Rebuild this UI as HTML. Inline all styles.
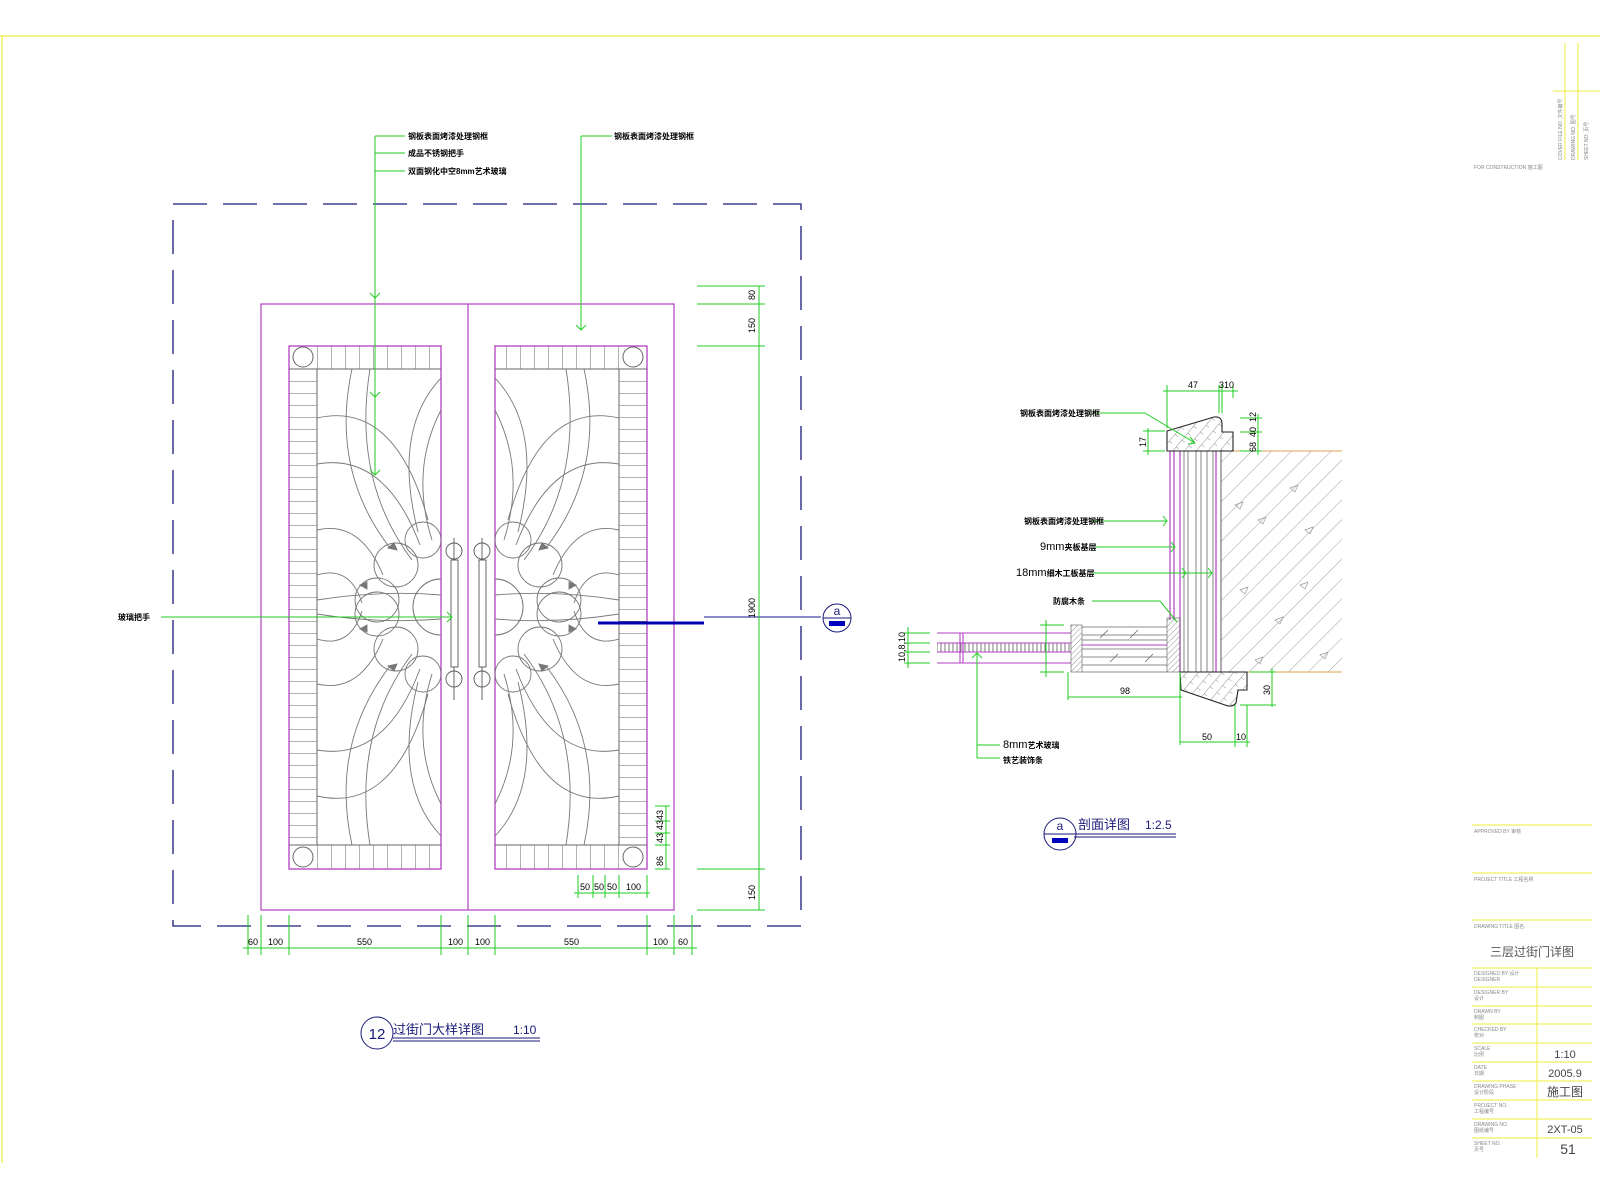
<!DOCTYPE html>
<html><head><meta charset="utf-8"><style>
html,body{margin:0;padding:0;background:#fff;}
svg{display:block;}
.cn{font-family:"Liberation Sans","Noto Sans CJK SC",sans-serif;}
</style></head><body>
<svg width="1600" height="1200" viewBox="0 0 1600 1200" xmlns="http://www.w3.org/2000/svg" class="cn">
<defs>
<pattern id="hb" width="28" height="12" patternUnits="userSpaceOnUse" y="369"><line x1="0" y1="0" x2="28" y2="0" stroke="#666" stroke-width="1"/></pattern>
<pattern id="vb" width="14" height="30" patternUnits="userSpaceOnUse" x="317"><line x1="0" y1="0" x2="0" y2="30" stroke="#666" stroke-width="1"/></pattern>
<pattern id="wall" width="14" height="14" patternUnits="userSpaceOnUse" patternTransform="rotate(45)"><line x1="0" y1="0" x2="0" y2="14" stroke="#888" stroke-width="0.8"/></pattern>
<pattern id="cross" width="9" height="9" patternUnits="userSpaceOnUse" patternTransform="rotate(40)"><line x1="0" y1="0" x2="0" y2="9" stroke="#777" stroke-width="0.8"/><line x1="0" y1="0" x2="4" y2="0" stroke="#777" stroke-width="0.8"/></pattern>
<pattern id="dense" width="4" height="10" patternUnits="userSpaceOnUse"><line x1="1" y1="0" x2="1" y2="10" stroke="#555" stroke-width="0.8"/></pattern>
<pattern id="diag" width="4" height="4" patternUnits="userSpaceOnUse" patternTransform="rotate(45)"><line x1="0" y1="0" x2="0" y2="4" stroke="#666" stroke-width="0.7"/></pattern>
<clipPath id="inner"><rect x="317" y="369" width="124" height="476"/></clipPath>
</defs>

<line x1="0" y1="36" x2="1600" y2="36" stroke="#f0f060" stroke-width="1.5"/>
<line x1="2" y1="36" x2="2" y2="1163" stroke="#f0f060" stroke-width="1.5"/>

<rect x="173" y="204" width="628" height="722" fill="none" stroke="#1a1a7a" stroke-width="1.3" stroke-dasharray="34,16"/>

<rect x="261" y="304" width="413" height="606" fill="none" stroke="#b040c0" stroke-width="1.2"/>
<line x1="468" y1="304" x2="468" y2="910" stroke="#b040c0" stroke-width="1.2"/>

<g id="leftpanel">
  <rect x="289" y="346" width="152" height="523" fill="none" stroke="#b040c0" stroke-width="1.3"/>
  <rect x="289" y="369" width="28" height="476" fill="url(#hb)"/>
  <rect x="317" y="346" width="124" height="23" fill="url(#vb)"/>
  <rect x="317" y="845" width="124" height="24" fill="url(#vb)"/>
  <line x1="317" y1="369" x2="317" y2="845" stroke="#666"/>
  <line x1="289" y1="369" x2="441" y2="369" stroke="#666"/>
  <line x1="289" y1="845" x2="441" y2="845" stroke="#666"/>
  <circle cx="303" cy="357" r="10" fill="none" stroke="#666"/>
  <circle cx="303" cy="857" r="10" fill="none" stroke="#666"/>
  <g clip-path="url(#inner)" fill="none" stroke="#777" stroke-width="0.9">
    <g id="quarter">
      <path d="M352,369 Q330,470 390,548"/>
      <path d="M370,369 Q352,480 412,560"/>
      <path d="M317,418 Q395,400 428,520"/>
      <path d="M317,464 Q385,452 420,545"/>
      <path d="M441,378 Q392,430 418,532"/>
      <path d="M441,410 Q410,470 432,540"/>
      <path d="M317,530 Q360,520 383,575"/>
      <path d="M317,575 Q350,565 362,603"/>
      <path d="M317,600 Q380,590 441,595"/>
      <circle cx="441" cy="607" r="28"/>
      <circle cx="396" cy="565" r="22"/>
      <circle cx="377" cy="600" r="22"/>
      <circle cx="423" cy="540" r="18"/>
      <path d="M388,548 l6,-5 l3,7 z" fill="#777"/>
      <path d="M360,585 l7,-3 l0,7 z" fill="#777"/>
    </g>
    <use href="#quarter" transform="translate(0,1214) scale(1,-1)"/>
  </g>
</g>
<use href="#leftpanel" transform="translate(936,0) scale(-1,1)"/>

<g fill="none" stroke="#555" stroke-width="0.9">
  <rect x="451" y="560" width="7" height="107"/>
  <circle cx="454" cy="551" r="8"/><circle cx="454" cy="679" r="8"/>
  <line x1="454" y1="538" x2="454" y2="560"/><line x1="454" y1="667" x2="454" y2="700"/>
  <rect x="479" y="560" width="7" height="107"/>
  <circle cx="482" cy="551" r="8"/><circle cx="482" cy="679" r="8"/>
  <line x1="482" y1="538" x2="482" y2="560"/><line x1="482" y1="667" x2="482" y2="700"/>
</g>

<g stroke="#22cc22" stroke-width="1" fill="none">
  <line x1="375" y1="136" x2="375" y2="474"/>
  <line x1="375" y1="136" x2="405" y2="136"/>
  <line x1="375" y1="153" x2="405" y2="153"/>
  <line x1="375" y1="171" x2="405" y2="171"/>
  <path d="M370,293 L375,298 L380,293"/><path d="M370,392 L375,397 L380,392"/><path d="M370,470 L375,475 L380,470"/>
  <line x1="581" y1="136" x2="581" y2="329"/>
  <line x1="581" y1="136" x2="612" y2="136"/>
  <path d="M576,325 L581,330 L586,325"/>
  <line x1="161" y1="617" x2="452" y2="617"/>
  <path d="M447,612 L452,617 L447,622"/>
</g>
<g font-size="8" font-weight="bold" fill="#000">
  <text x="408" y="139">钢板表面烤漆处理钢框</text>
  <text x="408" y="156">成品不锈钢把手</text>
  <text x="408" y="174">双面钢化中空8mm艺术玻璃</text>
  <text x="614" y="139">钢板表面烤漆处理钢框</text>
  <text x="118" y="620">玻璃把手</text>
</g>

<line x1="704" y1="617" x2="821" y2="617" stroke="#1a1a9a" stroke-width="1"/>
<line x1="598" y1="623" x2="704" y2="623" stroke="#0000b0" stroke-width="3"/>
<circle cx="837" cy="618" r="14" fill="#fff" stroke="#1a1a7a"/>
<line x1="823" y1="618" x2="851" y2="618" stroke="#1a1a7a"/>
<text x="837" y="615" font-size="12" text-anchor="middle" fill="#1a1a7a">a</text>
<rect x="829" y="621" width="16" height="5" fill="#0000c0"/>

<g stroke="#22cc22" stroke-width="1">
  <line x1="759" y1="286" x2="759" y2="910"/>
  <line x1="697" y1="286" x2="765" y2="286"/>
  <line x1="697" y1="304" x2="765" y2="304"/>
  <line x1="697" y1="346" x2="765" y2="346"/>
  <line x1="697" y1="869" x2="765" y2="869"/>
  <line x1="697" y1="910" x2="765" y2="910"/>
  <line x1="666" y1="806" x2="666" y2="869"/>
  <line x1="655" y1="806" x2="670" y2="806"/><line x1="655" y1="821" x2="670" y2="821"/><line x1="655" y1="833" x2="670" y2="833"/><line x1="655" y1="845" x2="670" y2="845"/><line x1="655" y1="869" x2="670" y2="869"/>
  <line x1="574" y1="893" x2="650" y2="893"/>
  <line x1="578" y1="875" x2="578" y2="898"/><line x1="593" y1="875" x2="593" y2="898"/><line x1="605" y1="875" x2="605" y2="898"/><line x1="619" y1="875" x2="619" y2="898"/><line x1="647" y1="875" x2="647" y2="898"/>
  <line x1="243" y1="948" x2="697" y2="948"/>
  <line x1="248" y1="915" x2="248" y2="955"/><line x1="261" y1="915" x2="261" y2="955"/><line x1="289" y1="915" x2="289" y2="955"/><line x1="441" y1="915" x2="441" y2="955"/><line x1="468" y1="915" x2="468" y2="955"/><line x1="495" y1="915" x2="495" y2="955"/><line x1="647" y1="915" x2="647" y2="955"/><line x1="674" y1="915" x2="674" y2="955"/><line x1="692" y1="915" x2="692" y2="955"/>
</g>
<g font-size="9" fill="#000" font-family="Liberation Sans,sans-serif">
  <text transform="translate(755,300) rotate(-90)">80</text>
  <text transform="translate(755,333) rotate(-90)">150</text>
  <text transform="translate(755,618) rotate(-90)">1900</text>
  <text transform="translate(755,900) rotate(-90)">150</text>
  <text transform="translate(663,830) rotate(-90)">43</text>
  <text transform="translate(663,843) rotate(-90)">43</text>
  <text transform="translate(663,820) rotate(-90)">43</text>
  <text transform="translate(663,866) rotate(-90)">86</text>
  <text x="580" y="890">50</text><text x="594" y="890">50</text><text x="607" y="890">50</text><text x="626" y="890">100</text>
  <text x="248" y="945">60</text><text x="268" y="945">100</text><text x="357" y="945">550</text><text x="448" y="945">100</text><text x="475" y="945">100</text><text x="564" y="945">550</text><text x="653" y="945">100</text><text x="678" y="945">60</text>
</g>

<circle cx="377" cy="1033" r="16" fill="none" stroke="#1a1a7a"/>
<text x="377" y="1039" font-size="15" text-anchor="middle" fill="#1a1a7a" font-family="Liberation Sans,sans-serif">12</text>
<text x="393" y="1034" font-size="13" fill="#1a1a7a">过街门大样详图</text>
<text x="513" y="1034" font-size="12" fill="#1a1a7a" font-family="Liberation Sans,sans-serif">1:10</text>
<line x1="393" y1="1038" x2="540" y2="1038" stroke="#1a1a7a"/>
<line x1="393" y1="1041" x2="540" y2="1041" stroke="#1a1a7a"/>

<rect x="1221" y="451" width="121" height="221" fill="url(#wall)"/>
<g fill="none" stroke="#999" stroke-width="0.7">
  <path d="M1258,520 l8,-3 l-3,7 z"/><path d="M1290,488 l8,-3 l-3,7 z"/><path d="M1305,530 l8,-3 l-3,7 z"/><path d="M1240,590 l8,-3 l-3,7 z"/><path d="M1300,585 l8,-3 l-3,7 z"/><path d="M1275,620 l8,-3 l-3,7 z"/><path d="M1320,655 l8,-3 l-3,7 z"/><path d="M1255,660 l8,-3 l-3,7 z"/><path d="M1235,505 l8,-3 l-3,7 z"/>
</g>
<line x1="1233" y1="451" x2="1342" y2="451" stroke="#e0a050"/>
<line x1="1247" y1="672" x2="1342" y2="672" stroke="#e0a050"/>
<g stroke="#666" stroke-width="0.8">
  <line x1="1184" y1="451" x2="1184" y2="672"/><line x1="1188" y1="451" x2="1188" y2="672"/>
  <line x1="1196" y1="451" x2="1196" y2="672"/><line x1="1201" y1="451" x2="1201" y2="672"/>
  <line x1="1207" y1="451" x2="1207" y2="672"/><line x1="1213" y1="451" x2="1213" y2="672"/>
  <line x1="1221" y1="451" x2="1221" y2="672" stroke="#333"/>
</g>
<g stroke="#b040c0" stroke-width="1.2">
  <line x1="1170" y1="451" x2="1170" y2="620"/><line x1="1174" y1="451" x2="1174" y2="620"/>
  <line x1="1180" y1="451" x2="1180" y2="672"/><line x1="1216" y1="451" x2="1216" y2="672"/>
</g>
<path d="M1167,451 L1167,431 L1214,417 Q1222,416 1222,424 L1222,432 L1233,432 L1233,451 Z" fill="url(#cross)" stroke="#222" stroke-width="1.1"/>
<path d="M1180,672 L1247,672 L1247,690 L1238,690 L1236,703 Q1232,708 1225,705 L1181,690 Z" fill="url(#cross)" stroke="#222" stroke-width="1.1"/>
<rect x="1071" y="625" width="11" height="47" fill="url(#diag)" stroke="#555" stroke-width="0.6"/>
<rect x="1167" y="618" width="13" height="54" fill="url(#diag)" stroke="#555" stroke-width="0.6"/>
<rect x="937" y="643" width="134" height="9" fill="url(#dense)"/>
<g stroke="#b040c0" stroke-width="1.1">
  <line x1="937" y1="633" x2="1071" y2="633"/><line x1="937" y1="643" x2="1071" y2="643"/>
  <line x1="937" y1="652" x2="1071" y2="652"/><line x1="937" y1="663" x2="1071" y2="663"/>
  <line x1="960" y1="633" x2="960" y2="663"/><line x1="963" y1="633" x2="963" y2="663"/>
  <line x1="1082" y1="645" x2="1167" y2="645"/>
</g>
<g stroke="#666" stroke-width="0.8">
  <line x1="1082" y1="627" x2="1167" y2="627"/><line x1="1082" y1="635" x2="1167" y2="635"/><line x1="1082" y1="640" x2="1167" y2="640"/>
  <line x1="1082" y1="649" x2="1167" y2="649"/><line x1="1082" y1="657" x2="1167" y2="657"/><line x1="1082" y1="665" x2="1167" y2="665"/><line x1="1082" y1="672" x2="1167" y2="672"/>
  <line x1="1100" y1="638" x2="1108" y2="630"/><line x1="1130" y1="638" x2="1138" y2="630"/><line x1="1110" y1="662" x2="1118" y2="654"/><line x1="1145" y1="662" x2="1153" y2="654"/>
</g>

<g stroke="#22cc22" stroke-width="1" fill="none">
  <line x1="1163" y1="391" x2="1238" y2="391"/>
  <line x1="1167" y1="385" x2="1167" y2="428"/><line x1="1219" y1="385" x2="1219" y2="413"/><line x1="1222" y1="385" x2="1222" y2="413"/><line x1="1233" y1="385" x2="1233" y2="398"/>
  <line x1="1258" y1="414" x2="1258" y2="455"/>
  <line x1="1240" y1="418" x2="1262" y2="418"/><line x1="1240" y1="432" x2="1262" y2="432"/><line x1="1240" y1="451" x2="1262" y2="451"/>
  <line x1="1148" y1="428" x2="1148" y2="455"/>
  <line x1="1143" y1="431" x2="1165" y2="431"/><line x1="1143" y1="451" x2="1165" y2="451"/>
  <path d="M1092,413 L1145,413 L1195,443"/><path d="M1190,437 l5,6 l-7,1"/>
  <line x1="1092" y1="521" x2="1167" y2="521"/><path d="M1163,516 l4,5 l-4,5"/>
  <line x1="1092" y1="547" x2="1175" y2="547"/><path d="M1171,542 l4,5 l-4,5"/>
  <line x1="1092" y1="573" x2="1212" y2="573"/><path d="M1182,568 l4,5 l-4,5"/><path d="M1208,568 l4,5 l-4,5"/>
  <path d="M1092,601 L1160,601 L1177,622"/>
  <line x1="908" y1="627" x2="908" y2="668"/>
  <line x1="904" y1="633" x2="930" y2="633"/><line x1="904" y1="643" x2="930" y2="643"/><line x1="904" y1="652" x2="930" y2="652"/><line x1="904" y1="663" x2="930" y2="663"/>
  <line x1="1046" y1="620" x2="1046" y2="677"/>
  <line x1="1040" y1="625" x2="1064" y2="625"/><line x1="1040" y1="672" x2="1064" y2="672"/>
  <line x1="1068" y1="672" x2="1068" y2="700"/><line x1="1180" y1="672" x2="1180" y2="745"/>
  <line x1="1068" y1="697" x2="1182" y2="697"/>
  <line x1="1180" y1="742" x2="1250" y2="742"/><line x1="1235" y1="705" x2="1235" y2="747"/><line x1="1247" y1="705" x2="1247" y2="747"/>
  <line x1="1272" y1="668" x2="1272" y2="707"/><line x1="1250" y1="672" x2="1276" y2="672"/><line x1="1240" y1="705" x2="1276" y2="705"/>
  <line x1="977" y1="652" x2="977" y2="758"/><path d="M972,658 l5,-5 l5,5"/>
  <line x1="977" y1="745" x2="1000" y2="745"/><line x1="977" y1="758" x2="1000" y2="758"/>
</g>
<g font-size="9" fill="#000" font-family="Liberation Sans,sans-serif">
  <text x="1188" y="388">47</text><text x="1219" y="388">310</text>
  <text transform="translate(1256,422) rotate(-90)">12</text>
  <text transform="translate(1256,437) rotate(-90)">40</text>
  <text transform="translate(1256,452) rotate(-90)">68</text>
  <text transform="translate(1146,447) rotate(-90)">17</text>
  <text transform="translate(905,662) rotate(-90)">10,8,10</text>
  <text x="1120" y="694">98</text>
  <text x="1202" y="740">50</text><text x="1236" y="740">10</text>
  <text transform="translate(1270,695) rotate(-90)">30</text>
</g>
<g font-size="8" font-weight="bold" fill="#000">
  <text x="1020" y="416">钢板表面烤漆处理钢框</text>
  <text x="1024" y="524">钢板表面烤漆处理钢框</text>
  <text x="1040" y="550"><tspan font-size="11" font-weight="normal">9mm</tspan>夹板基层</text>
  <text x="1016" y="576"><tspan font-size="11" font-weight="normal">18mm</tspan>细木工板基层</text>
  <text x="1053" y="604">防腐木条</text>
  <text x="1003" y="748"><tspan font-size="11" font-weight="normal">8mm</tspan>艺术玻璃</text>
  <text x="1003" y="763">铁艺装饰条</text>
</g>

<circle cx="1060" cy="834" r="16" fill="#fff" stroke="#1a1a7a"/>
<line x1="1044" y1="834" x2="1176" y2="834" stroke="#1a1a7a"/>
<line x1="1074" y1="837" x2="1176" y2="837" stroke="#1a1a7a"/>
<text x="1060" y="830" font-size="12" text-anchor="middle" fill="#1a1a7a" font-family="Liberation Sans,sans-serif">a</text>
<rect x="1052" y="838" width="16" height="5" fill="#0000c0"/>
<text x="1078" y="829" font-size="13" fill="#1a1a7a">剖面详图</text>
<text x="1145" y="829" font-size="12" fill="#1a1a7a" font-family="Liberation Sans,sans-serif">1:2.5</text>

<g stroke="#f0f060" stroke-width="1.2">
  <line x1="1565" y1="43" x2="1565" y2="160"/><line x1="1578" y1="43" x2="1578" y2="160"/>
  <line x1="1553" y1="91" x2="1600" y2="91"/>
  <line x1="1472" y1="825" x2="1592" y2="825"/>
  <line x1="1472" y1="873" x2="1592" y2="873"/>
  <line x1="1472" y1="920" x2="1592" y2="920"/>
  <line x1="1472" y1="968" x2="1592" y2="968"/>
  <line x1="1472" y1="987" x2="1592" y2="987"/>
  <line x1="1472" y1="1006" x2="1592" y2="1006"/>
  <line x1="1472" y1="1024" x2="1592" y2="1024"/>
  <line x1="1472" y1="1043" x2="1592" y2="1043"/>
  <line x1="1472" y1="1062" x2="1592" y2="1062"/>
  <line x1="1472" y1="1081" x2="1592" y2="1081"/>
  <line x1="1472" y1="1100" x2="1592" y2="1100"/>
  <line x1="1472" y1="1119" x2="1592" y2="1119"/>
  <line x1="1472" y1="1138" x2="1592" y2="1138"/>
  <line x1="1537" y1="968" x2="1537" y2="1158"/>
</g>
<g font-size="5" fill="#888" font-family="Liberation Sans,sans-serif">
  <text transform="translate(1562,160) rotate(-90)">COVER FILE NO. 文件编号</text>
  <text transform="translate(1575,160) rotate(-90)">DRAWING NO. 图号</text>
  <text transform="translate(1588,160) rotate(-90)">SHEET NO. 页号</text>
  <text x="1474" y="169">FOR CONSTRUCTION 施工图</text>
  <text x="1474" y="833">APPROVED BY 审核</text>
  <text x="1474" y="881">PROJECT TITLE 工程名称</text>
  <text x="1474" y="928">DRAWING TITLE 图名</text>
  <text x="1474" y="975">DESIGNED BY 设计</text><text x="1474" y="981">DESIGNER</text>
  <text x="1474" y="994">DESIGNER BY</text><text x="1474" y="1000">设计</text>
  <text x="1474" y="1013">DRAWN BY</text><text x="1474" y="1019">制图</text>
  <text x="1474" y="1031">CHECKED BY</text><text x="1474" y="1037">校对</text>
  <text x="1474" y="1050">SCALE</text><text x="1474" y="1056">比例</text>
  <text x="1474" y="1069">DATE</text><text x="1474" y="1075">日期</text>
  <text x="1474" y="1088">DRAWING PHASE</text><text x="1474" y="1094">设计阶段</text>
  <text x="1474" y="1107">PROJECT NO.</text><text x="1474" y="1113">工程编号</text>
  <text x="1474" y="1126">DRAWING NO.</text><text x="1474" y="1132">图纸编号</text>
  <text x="1474" y="1145">SHEET NO.</text><text x="1474" y="1151">页号</text>
</g>
<text x="1532" y="956" font-size="12" fill="#555" text-anchor="middle">三层过街门详图</text>
<g font-size="11" fill="#444" font-family="Liberation Sans,sans-serif" text-anchor="middle">
  <text x="1565" y="1058">1:10</text>
  <text x="1565" y="1077">2005.9</text>
  <text x="1565" y="1133">2XT-05</text>
</g>
<text x="1565" y="1096" font-size="12" fill="#444" text-anchor="middle">施工图</text>
<text x="1568" y="1154" font-size="14" fill="#444" text-anchor="middle" font-family="Liberation Sans,sans-serif">51</text>
</svg>
</body></html>
